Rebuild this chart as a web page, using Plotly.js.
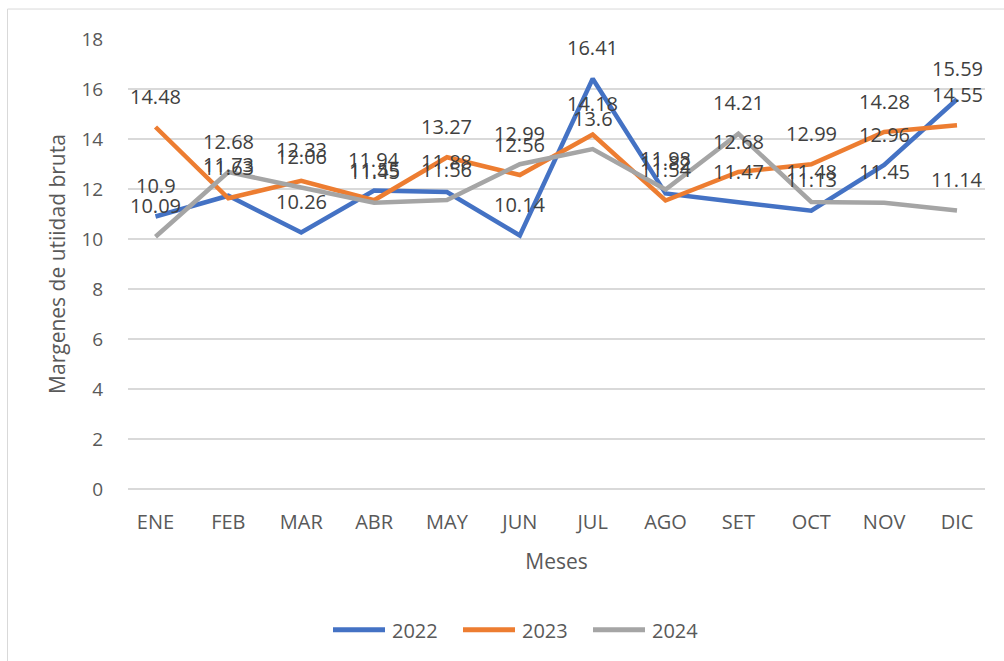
<!DOCTYPE html>
<html>
<head>
<meta charset="utf-8">
<script src="https://cdn.plot.ly/plotly-3.0.1.min.js"></script>
<style>
html,body{margin:0;padding:0;background:#fff;}
#chart{width:1004px;height:661px;}
</style>
</head>
<body>
<div id="chart"></div>
<script>
const months = ["ENE","FEB","MAR","ABR","MAY","JUN","JUL","AGO","SET","OCT","NOV","DIC"];
const seriesNames = ["2022","2023","2024"];
const values2022 = [10.9, 11.73, 10.26, 11.94, 11.88, 10.14, 16.41, 11.82, 11.47, 11.13, 12.96, 15.59];
const values2023 = [14.48, 11.63, 12.33, 11.55, 13.27, 12.56, 14.18, 11.54, 12.68, 12.99, 14.28, 14.55];
const values2024 = [10.09, 12.68, 12.06, 11.45, 11.56, 12.99, 13.6, 11.98, 14.21, 11.48, 11.45, 11.14];
const yTicks = [0, 2, 4, 6, 8, 10, 12, 14, 16, 18];

const colors = ["#4472C4", "#ED7D31", "#A5A5A5"];
const allValues = [values2022, values2023, values2024];
const FONT = "Open Sans, sans-serif";

const traces = allValues.map((vals, i) => ({
  type: "scatter",
  mode: "lines",
  x: months,
  y: vals,
  name: seriesNames[i],
  line: {color: colors[i], width: 4.5},
  showlegend: false,
  hoverinfo: "x+y+name"
}));

const annotations = [];
allValues.forEach((vals) => {
  vals.forEach((v, j) => {
    annotations.push({
      x: months[j], y: v, xref: "x", yref: "y",
      text: String(v), showarrow: false, yshift: 31,
      font: {family: FONT, size: 20, color: "#404040"}
    });
  });
});

// custom legend (positions in pixels converted to paper coords)
const L = 128, R = 985, T = 38.5, B = 489;
const px = p => (p - L) / (R - L);
const py = p => (B - p) / (B - T);
const legendStarts = [331, 461, 591];
const shapes = [
  {type: "rect", xref: "paper", yref: "paper", x0: px(7.5), x1: px(1012), y0: py(670), y1: py(8.5),
   line: {color: "#D9D9D9", width: 1}, fillcolor: "rgba(0,0,0,0)", layer: "below"}
];
seriesNames.forEach((n, i) => {
  shapes.push({type: "line", xref: "paper", yref: "paper",
    x0: px(legendStarts[i] + 2), x1: px(legendStarts[i] + 54), y0: py(630), y1: py(630),
    line: {color: colors[i], width: 5}});
  annotations.push({xref: "paper", yref: "paper", x: px(legendStarts[i] + 59), y: py(631),
    xanchor: "left", yanchor: "middle", text: n, showarrow: false,
    font: {family: FONT, size: 20, color: "#595959"}});
});

const layout = {
  width: 1004, height: 661,
  margin: {l: L, r: 1004 - R, t: T, b: 661 - B, pad: 0},
  paper_bgcolor: "#fff", plot_bgcolor: "#fff",
  font: {family: FONT, size: 20, color: "#595959"},
  showlegend: false,
  xaxis: {
    type: "category",
    showgrid: false, zeroline: false, showline: false,
    ticks: "outside", ticklen: 15, tickcolor: "rgba(0,0,0,0)",
    tickfont: {family: FONT, size: 20, color: "#595959"},
    title: {text: "Meses", standoff: 20, font: {family: FONT, size: 21, color: "#595959"}}
  },
  yaxis: {
    range: [0, 18], tickvals: yTicks, ticktext: yTicks.map(String),
    showgrid: true, gridcolor: "#D9D9D9", gridwidth: 1.5,
    zeroline: true, zerolinecolor: "#D9D9D9", zerolinewidth: 1.5,
    showline: false,
    ticks: "outside", ticklen: 20, tickcolor: "rgba(0,0,0,0)",
    tickfont: {family: FONT, size: 19, color: "#595959"},
    title: {text: "Margenes de utiidad bruta", standoff: 10, font: {family: FONT, size: 21, color: "#595959"}}
  },
  shapes: shapes,
  annotations: annotations
};

Plotly.newPlot("chart", traces, layout, {displayModeBar: false, staticPlot: true});
</script>
</body>
</html>
